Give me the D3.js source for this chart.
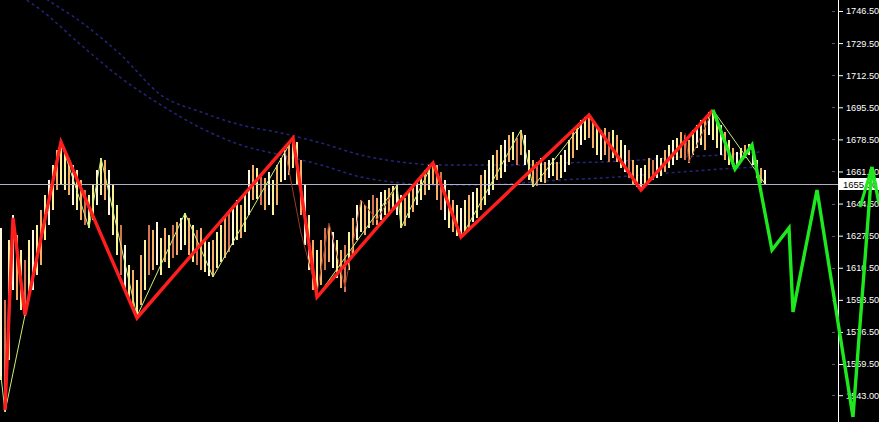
<!DOCTYPE html>
<html><head><meta charset="utf-8">
<script src="https://cdn.jsdelivr.net/npm/d3@7"></script>
<style>html,body{margin:0;padding:0;background:#000;overflow:hidden}</style>
</head><body>
<svg id="c" width="879" height="422"></svg>
<script>
// ---- data ----
const highs = [
1631.6,1593.4,1625.2,1638.5,1627.8,1620.0,1614.6,
1625.2,1630.5,1633.2,1641.1,1649.0,1657.0,1664.9,1672.9,1677.7,
1672.9,1667.6,1664.9,1662.3,1657.0,1651.7,1649.0,1654.3,1662.3,1668.6,1667.6,1662.3,1654.3,1643.8,1633.2,1622.6,1612.0,1609.4,1604.0,
1617.3,1625.2,1633.2,1630.5,1634.8,1626.4,1631.6,1627.8,1633.2,1634.8,1636.9,1639.5,1636.9,1633.2,1630.5,1631.6,1626.4,1624.3,1625.2,1629.4,1633.2,1636.9,1640.0,1642.2,1646.4,1643.8,1649.0,1662.3,1664.9,1663.3,1659.6,1658.0,1661.2,1657.0,1664.9,1668.6,1672.9,1675.5,1679.2,
1677.1,1667.6,1654.3,1638.5,1625.2,1620.0,
1625.2,1631.6,1633.2,1629.4,1625.2,1620.0,1622.6,1629.4,1636.9,1643.8,1646.4,1643.8,1646.4,1649.0,1647.4,1650.6,1651.7,1652.8,1653.8,1654.3,1649.0,1647.4,1651.7,1654.3,1657.0,1659.6,1662.3,1664.9,1666.5,
1664.9,1661.2,1657.0,1651.7,1646.4,1643.8,1642.2,
1646.4,1649.0,1650.6,1652.8,1659.6,1662.3,1667.6,1670.2,1672.9,1675.5,1678.2,1680.8,1682.4,1679.2,1683.5,1680.8,1672.9,1667.6,1666.5,1668.6,1666.5,1667.6,1668.6,1666.5,1670.2,1672.9,1678.2,1682.4,1686.1,1688.8,1690.4,1691.4,
1688.8,1686.1,1683.5,1684.5,1682.4,1683.5,1680.8,1678.2,1675.5,1672.9,1667.6,1664.9,1663.3,
1664.9,1668.6,1667.6,1670.2,1668.6,1672.9,1675.5,1678.2,1679.2,1682.4,1680.8,1678.2,1683.5,1686.1,1688.8,1689.8,1693.0,1694.1,
1689.8,1686.1,1682.4,1678.2,1674.0,1671.9,1674.0,1675.5,1676.1,1672.9,1667.6,1663.3,1662.3];
const lows = [
1551.1,1534.1,1561.7,1598.7,1593.4,1588.1,1584.9,
1593.4,1598.7,1606.7,1612.0,1625.2,1633.2,1641.1,1651.7,1654.3,
1651.7,1649.0,1643.8,1641.1,1635.8,1633.2,1631.6,1635.8,1643.8,1649.0,1646.4,1638.5,1627.8,1617.3,1606.7,1598.7,1593.4,1588.1,1584.9,
1590.8,1598.7,1606.7,1609.4,1612.0,1606.7,1613.5,1610.4,1615.6,1617.3,1620.0,1622.6,1617.3,1613.5,1612.0,1609.4,1608.3,1606.2,1605.7,1610.4,1613.5,1615.6,1618.8,1622.6,1625.2,1626.4,1629.4,1638.5,1646.4,1646.9,1643.8,1641.1,1643.8,1638.5,1643.8,1656.0,1657.0,1659.6,1663.3,
1654.3,1638.5,1622.6,1609.4,1598.7,1595.0,
1601.4,1609.4,1613.5,1610.4,1605.2,1599.7,1597.6,1609.4,1617.3,1625.2,1629.4,1627.8,1631.6,1633.2,1633.2,1635.8,1638.5,1640.0,1641.1,1638.5,1631.6,1632.6,1636.9,1640.0,1643.8,1646.4,1649.0,1651.7,1654.3,
1646.4,1641.1,1635.8,1631.6,1629.4,1627.3,1626.4,
1629.4,1631.6,1634.8,1636.9,1641.1,1643.8,1649.0,1651.7,1657.0,1658.0,1661.2,1666.5,1667.6,1664.9,1670.2,1664.9,1657.0,1653.3,1653.8,1655.9,1655.4,1658.0,1659.1,1657.0,1658.0,1661.2,1664.9,1668.6,1672.9,1675.5,1678.2,1679.2,
1674.0,1670.2,1667.6,1670.2,1666.5,1668.6,1666.5,1663.3,1661.2,1658.0,1654.3,1653.3,1651.7,
1653.8,1655.9,1657.0,1658.0,1659.1,1661.2,1663.3,1664.9,1667.6,1668.6,1667.6,1666.0,1670.2,1674.0,1675.5,1672.9,1680.8,1678.2,
1674.0,1670.2,1667.6,1664.9,1663.8,1664.9,1667.6,1668.6,1670.2,1664.9,1658.0,1655.4,1654.3];
const barColorCodes =
  "wrywoyrywyoywyoy" + "yowyoryywyowyyrwyoy" + "oyrowyoyrowyoyroywoyyorwyoywoyrowyoywoy" +
  "yowyoy" + "orowyoryowyoyrowyoywyoyowyoyo" + "orwyoyw" + "yowyoywyoywoyrowyoryowyoywyoywyo" +
  "oyworyoywroyw" + "yorwyoywyoroywyowy" + "ywoyowyoywyow";
const colorMap = {w:"#fff8dc", y:"#fbf19a", o:"#f5ae62", r:"#d4744e"};

// zigzags: [bar index, price]
const majorZigzag = [[1,1535.2],[3,1636.9],[6,1585.5],[15,1677.1],[34,1583.9],[73,1679.2],[79,1595.0],[108,1666.0],[115,1626.8],[147,1691.4],[160,1651.7],[178,1694.1]];
const minorZigzag = [[0,1553],[1,1534.1],[6,1585.5],[15,1677.1],[22,1631.6],[25,1668.6],[34,1584.9],[46,1639.5],[53,1605.7],[73,1679.2],[79,1595.0],[99,1654.3],[100,1631.6],[108,1666.5],[115,1626.4],[130,1683.5],[133,1653.3],[147,1691.4],[160,1651.7],[178,1694.1],[191,1655.0]];
const minorRedA = [[71,1672.9],[75,1628.9],[79,1597.1],[82,1634.2],[86,1600.3],[90,1646.4],[94,1635.8],[99,1654.3]];
const minorRedB = [[171,1681.9],[172,1666.5],[178,1694.1]];
const projection = [[178,1694.1],[183.5,1662.8],[187.75,1675.5],[192.75,1619.9],[197,1631.6],[198,1587.1],[204,1651.7],[213,1531.5],[217.75,1663.9],[219.5,1644.5]];
const projectionAlt = [[214.75,1642.7],[217.75,1663.9]];

const maIndex = [0,10,20,30,40,50,60,70,80,90,100,110,120,130,140,150,160,170,180,190];
const maFast = [1760.3,1747.0,1728.5,1711.0,1696.7,1684.5,1675.5,1670.2,1664.9,1658.6,1655.4,1654.3,1654.3,1655.4,1657.0,1658.0,1659.6,1661.2,1662.8,1663.9];
const maSlow = [1773.5,1755.0,1740.7,1723.2,1702.0,1693.0,1686.1,1681.9,1676.6,1670.2,1666.5,1664.9,1664.9,1664.9,1666.0,1666.5,1667.6,1669.2,1670.2,1671.9];

const priceTicks = [1746.5,1729.5,1712.5,1695.5,1678.5,1661.5,1644.5,1627.5,1610.5,1593.5,1576.5,1559.5,1543.0];
const currentPrice = 1655.10;

// ---- drawing ----
const W = 879, H = 422, axisX = 838;
const svg = d3.select("#c");
const x = d3.scaleLinear().domain([0, 219.5]).range([1, 879]);
const y = d3.scaleLinear().domain([1528.8, 1752.33]).range([H, 0]);

svg.append("rect").attr("width", W).attr("height", H).attr("fill", "#000");
svg.append("defs").append("clipPath").attr("id", "plot")
  .append("rect").attr("x", 0).attr("y", 0).attr("width", axisX).attr("height", H);

const plot = svg.append("g").attr("clip-path", "url(#plot)");
const line = d3.line().x(d => x(d[0])).y(d => y(d[1]));

// moving averages
[maSlow, maFast].forEach(ma => {
  plot.append("path")
    .datum(maIndex.map((d, i) => [d, ma[i]]))
    .attr("d", d3.line().curve(d3.curveMonotoneX).x(d => x(d[0])).y(d => y(d[1])))
    .attr("fill", "none").attr("stroke", "#24247e").attr("stroke-width", 1.5)
    .attr("stroke-dasharray", "3,3");
});

// bars
plot.append("g").attr("shape-rendering", "crispEdges").selectAll("line").data(highs).join("line")
  .attr("x1", (d, i) => x(i)).attr("x2", (d, i) => x(i))
  .attr("y1", d => y(d)).attr("y2", (d, i) => y(lows[i]))
  .attr("stroke", (d, i) => colorMap[barColorCodes[i]] || colorMap.y)
  .attr("stroke-width", 2);

// current price line
plot.append("line").attr("x1", 0).attr("x2", axisX)
  .attr("y1", Math.round(y(currentPrice)) + 0.5).attr("y2", Math.round(y(currentPrice)) + 0.5)
  .attr("stroke", "#aeb0c4").attr("stroke-width", 1);

// minor zigzags
plot.append("path").datum(minorRedA).attr("d", line).attr("fill", "none").attr("stroke", "#9c3a28").attr("stroke-width", 1);
plot.append("path").datum(minorRedB).attr("d", line).attr("fill", "none").attr("stroke", "#9c3a28").attr("stroke-width", 1);
plot.append("path").datum(minorZigzag).attr("d", line).attr("fill", "none").attr("stroke", "#cdee7a").attr("stroke-width", 1);

// major zigzag
plot.append("path").datum(majorZigzag).attr("d", line).attr("fill", "none")
  .attr("stroke", "#ff1e1e").attr("stroke-width", 3.4).attr("stroke-linejoin", "miter");

// price axis
svg.append("line").attr("x1", axisX + 0.5).attr("x2", axisX + 0.5).attr("y1", 0).attr("y2", H)
  .attr("stroke", "#ffffff").attr("stroke-width", 1);
const axis = d3.axisRight(y).tickValues(priceTicks).tickFormat(d3.format(".2f")).tickSize(4).tickPadding(3);
const gAxis = svg.append("g").attr("transform", `translate(${axisX + 1},0)`).call(axis);
gAxis.select(".domain").remove();
gAxis.selectAll(".tick line").attr("stroke", "#ffffff");
gAxis.selectAll(".tick text").attr("fill", "#ffffff")
  .style("font-family", "'Liberation Sans', Arial, sans-serif").style("font-size", "9.2px");
svg.append("g").selectAll("line").data(priceTicks).join("line")
  .attr("x1", axisX - 6).attr("x2", axisX - 3)
  .attr("y1", d => Math.round(y(d)) + 0.5).attr("y2", d => Math.round(y(d)) + 0.5)
  .attr("stroke", "#555").attr("stroke-width", 1);

// current price label
const cy = Math.round(y(currentPrice));
svg.append("rect").attr("x", axisX + 1).attr("y", cy - 6).attr("width", W - axisX).attr("height", 12).attr("fill", "#ffffff");
svg.append("text").attr("x", axisX + 5).attr("y", cy + 3.5).text(d3.format(".2f")(currentPrice))
  .attr("fill", "#000").style("font-family", "'Liberation Sans', Arial, sans-serif").style("font-size", "9.5px");

// projection (drawn on top, not clipped)
svg.append("path").datum(projection).attr("d", line).attr("fill", "none")
  .attr("stroke", "#1ee81e").attr("stroke-width", 3.4).attr("stroke-linejoin", "miter");
svg.append("path").datum(projectionAlt).attr("d", line).attr("fill", "none")
  .attr("stroke", "#1ee81e").attr("stroke-width", 3).attr("stroke-linejoin", "miter");
</script>
</body></html>
